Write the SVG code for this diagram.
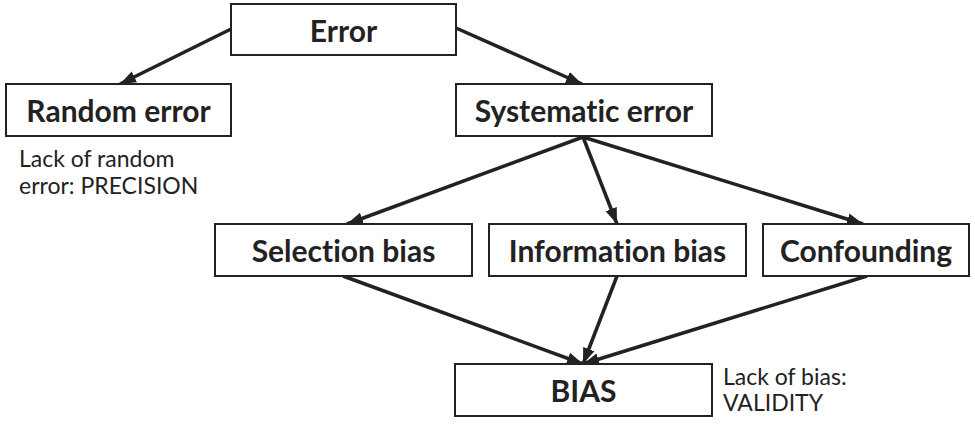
<svg xmlns="http://www.w3.org/2000/svg" width="975" height="425" viewBox="0 0 975 425">
<style>
.box{fill:#fff;stroke:#222;stroke-width:2}
.lbl{font-family:Lato,"Liberation Sans",sans-serif;font-weight:bold;font-size:30px;fill:#222;text-anchor:middle;font-variant-ligatures:none}
.note{font-family:Lato,"Liberation Sans",sans-serif;font-size:23px;fill:#222;font-variant-ligatures:none}
.edge{stroke:#222;stroke-width:3.5;fill:none;marker-end:url(#ah)}
</style>
<defs>
<marker id="ah" markerUnits="userSpaceOnUse" markerWidth="17" markerHeight="15" viewBox="0 0 17 15" refX="16" refY="7.5" orient="auto">
<path d="M0,1.5 L16,7.5 L0,13.5 Z" fill="#222"/>
</marker>
</defs>
<rect width="975" height="425" fill="#fff"/>
<g id="connectors">
<line class="edge" x1="231" y1="29" x2="120" y2="84"/>
<line class="edge" x1="456" y1="28" x2="582" y2="84"/>
<line class="edge" x1="583" y1="137" x2="347" y2="224"/>
<line class="edge" x1="583" y1="137" x2="617" y2="224"/>
<line class="edge" x1="583" y1="137" x2="863" y2="224"/>
<line class="edge" x1="343" y1="276" x2="583" y2="364"/>
<line class="edge" x1="617" y1="276" x2="583" y2="364"/>
<line class="edge" x1="867" y1="276" x2="583" y2="364"/>
</g>
<g id="error">
<rect class="box" x="231" y="4" width="225" height="51"/>
<text class="lbl" x="343.5" y="41.5">Error</text>
</g>
<g id="random-error">
<rect class="box" x="6" y="84" width="225" height="52"/>
<text class="lbl" x="118.5" y="122">Random error</text>
</g>
<g id="precision-note">
<text class="note" x="19" y="167">Lack of random</text>
<text class="note" x="19" y="194">error: PRECISION</text>
</g>
<g id="systematic-error">
<rect class="box" x="456" y="84" width="256" height="52"/>
<text class="lbl" x="584" y="122">Systematic error</text>
</g>
<g id="selection-bias">
<rect class="box" x="215" y="224" width="257" height="52"/>
<text class="lbl" x="343.5" y="262">Selection bias</text>
</g>
<g id="information-bias">
<rect class="box" x="489" y="224" width="257" height="52"/>
<text class="lbl" x="617.5" y="262">Information bias</text>
</g>
<g id="confounding">
<rect class="box" x="763" y="224" width="206" height="52"/>
<text class="lbl" x="866" y="262">Confounding</text>
</g>
<g id="bias">
<rect class="box" x="455" y="364" width="257" height="52"/>
<text class="lbl" x="583.5" y="402">BIAS</text>
</g>
<g id="validity-note">
<text class="note" x="723" y="385">Lack of bias:</text>
<text class="note" x="723" y="411">VALIDITY</text>
</g>
</svg>
